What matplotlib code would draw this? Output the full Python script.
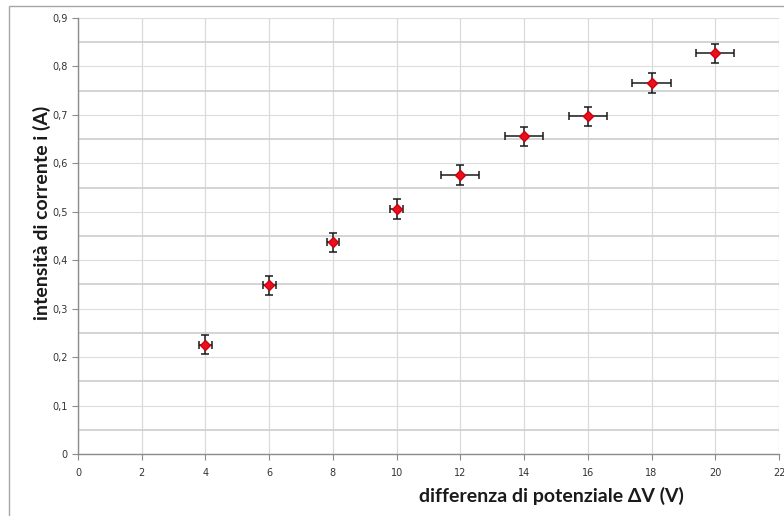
import numpy as np
import matplotlib.pyplot as plt
from matplotlib.patches import Rectangle
from matplotlib.ticker import MultipleLocator, FuncFormatter

########## Data
dv = [4, 6, 8, 10, 12, 14, 16, 18, 20]
corrente = [0.226, 0.348, 0.437, 0.506, 0.576, 0.656, 0.697, 0.766, 0.827]
err_dv = [0.2, 0.2, 0.2, 0.2, 0.6, 0.6, 0.6, 0.6, 0.6]
err_i = [0.02, 0.02, 0.02, 0.02, 0.02, 0.02, 0.02, 0.02, 0.02]

xlabel = 'differenza di potenziale ΔV (V)'
ylabel = 'intensità di corrente i (A)'
label_font = ['Lato', 'DejaVu Sans']

########## Figure
fig = plt.figure(figsize=(7.84, 5.16), dpi=100)
fig.patch.set_facecolor('white')
# outer chart border (Excel style)
fig.patches.append(Rectangle((9/784, -0.05), 1.1, (516-6)/516 + 0.05, transform=fig.transFigure,
                             fill=False, edgecolor='#a6a6a6', linewidth=1.0))
ax = fig.add_axes([78/784, 62/516, 701/784, 436/516])

ax.errorbar(dv, corrente, xerr=err_dv, yerr=err_i, fmt='D', color='#e8101a', markersize=5,
            markeredgecolor='#d00010', ecolor='#1a1a1a', elinewidth=1.1, capsize=2.8, capthick=1.1, zorder=3)

ax.set_xlim(0, 22)
ax.set_ylim(0, 0.9)
ax.xaxis.set_major_locator(MultipleLocator(2))
ax.yaxis.set_major_locator(MultipleLocator(0.1))
ax.yaxis.set_minor_locator(MultipleLocator(0.05))
comma = FuncFormatter(lambda v, p: ('%g' % round(v, 2)).replace('.', ','))
ax.yaxis.set_major_formatter(comma)

ax.grid(which='major', axis='x', color='#dadada', linewidth=0.9)
ax.grid(which='major', axis='y', color='#dcdcdc', linewidth=0.8)
ax.grid(which='minor', axis='y', color='#cdcdcd', linewidth=1.2)
ax.set_axisbelow(True)

for s in ['top', 'right']:
	ax.spines[s].set_visible(False)
for s in ['left', 'bottom']:
	ax.spines[s].set_color('#8c8c8c')
	ax.spines[s].set_linewidth(1.0)
ax.tick_params(axis='both', which='major', colors='#8c8c8c', labelcolor='#333333', labelsize=7, length=4)
ax.tick_params(axis='y', which='minor', length=0)
ax.tick_params(axis='x', pad=6)

ax.set_xlabel(xlabel, fontsize=14, fontweight='bold', family=label_font, color='#1a1a1a')
ax.xaxis.set_label_coords(0.675, -0.075)
ax.set_ylabel(ylabel, fontsize=14, fontweight='bold', family=label_font, color='#1a1a1a')
ax.yaxis.set_label_coords(-0.038, 0.552)

fig.savefig('out.png', dpi=100)
